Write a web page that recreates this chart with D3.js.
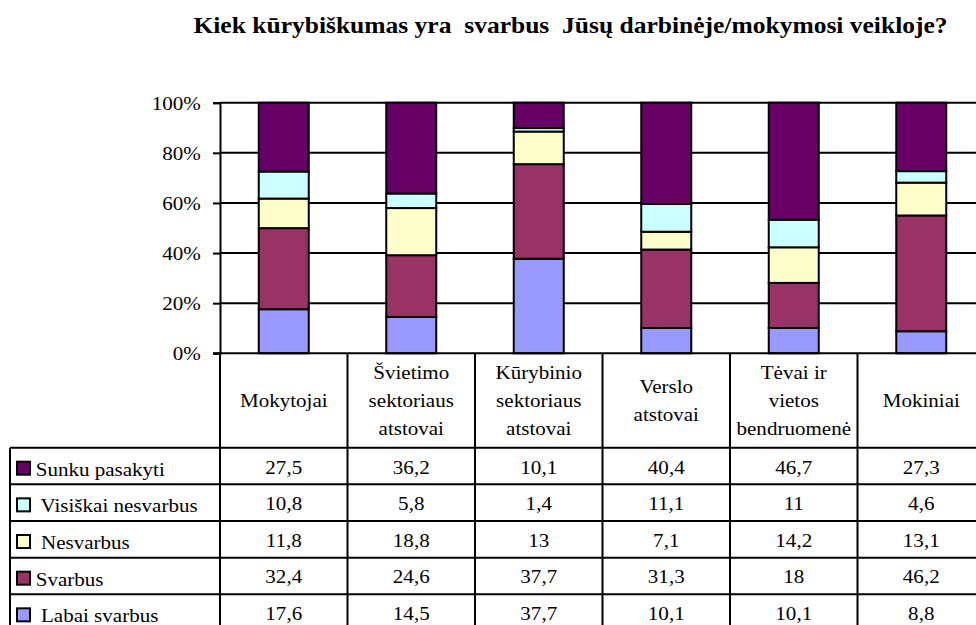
<!DOCTYPE html>
<html>
<head>
<meta charset="utf-8">
<script src="https://cdn.jsdelivr.net/npm/d3@7"></script>
<style>
  html, body { margin: 0; padding: 0; background: #fff; }
  svg { display: block; }
  text { font-family: "Liberation Serif", "Times New Roman", Times, serif; fill: #000; white-space: pre; }
</style>
</head>
<body>
<div id="chart"></div>
<script>
// ---- data ----
const title = "Kiek kūrybiškumas yra  svarbus  Jūsų darbinėje/mokymosi veikloje?";
const categories = ["Mokytojai", "Švietimo sektoriaus atstovai", "Kūrybinio sektoriaus atstovai", "Verslo atstovai", "Tėvai ir vietos bendruomenė", "Mokiniai"];
const categoryLines = [["Mokytojai"], ["Švietimo", "sektoriaus", "atstovai"], ["Kūrybinio", "sektoriaus", "atstovai"], ["Verslo", "atstovai"], ["Tėvai ir", "vietos", "bendruomenė"], ["Mokiniai"]];
// series, bottom of stack first
const seriesNames = ["Labai svarbus", "Svarbus", "Nesvarbus", "Visiškai nesvarbus", "Sunku pasakyti"];
const legendLabels = [" Labai svarbus", "Svarbus", " Nesvarbus", " Visiškai nesvarbus", "Sunku pasakyti"];
const labaiSvarbus = [17.6, 14.5, 37.7, 10.1, 10.1, 8.8];
const svarbus = [32.4, 24.6, 37.7, 31.3, 18, 46.2];
const nesvarbus = [11.8, 18.8, 13, 7.1, 14.2, 13.1];
const visiskaiNesvarbus = [10.8, 5.8, 1.4, 11.1, 11, 4.6];
const sunkuPasakyti = [27.5, 36.2, 10.1, 40.4, 46.7, 27.3];
const seriesValues = [labaiSvarbus, svarbus, nesvarbus, visiskaiNesvarbus, sunkuPasakyti];
const colors = ["#9999FF", "#993366", "#FFFFCC", "#CCFFFF", "#660066"];
const yTicks = [0, 0.2, 0.4, 0.6, 0.8, 1];

// ---- layout ----
const W = 976, H = 625;
const plotLeft = 220, plotRight = 985, plotTop = 102.7, plotBottom = 353.3;
const headerBottom = 447.7, tableBottom = 631, legendLeft = 10;
const SX = 1.12, FS = 18.8;
const FONT = '"Liberation Serif", "Times New Roman", Times, serif';

const svg = d3.select("#chart").append("svg").attr("width", W).attr("height", H);

function stext(g, x, y, txt, anchor, size, weight, sx) {
  return g.append("text")
    .attr("transform", `translate(${x},${y}) scale(${sx},1)`)
    .attr("text-anchor", anchor)
    .attr("font-family", FONT)
    .style("font-family", FONT)
    .style("font-size", size + "px")
    .style("font-weight", weight)
    .text(txt);
}

// title
stext(svg, 570.5, 33, title, "middle", 23, "bold", 1.11);

// scales
const x = d3.scaleBand().domain(categories).range([plotLeft, plotRight]).padding(0);
const y = d3.scaleLinear().domain([0, 1]).range([plotBottom, plotTop]);
const barW = x.bandwidth() * 50 / 127.5;

// gridlines
svg.append("g").selectAll("line").data(yTicks.filter(d => d > 0)).join("line")
  .attr("x1", plotLeft).attr("x2", plotRight)
  .attr("y1", d => y(d)).attr("y2", d => y(d))
  .attr("stroke", "#000").attr("stroke-width", 2);

// stacked data
const rows = categories.map((c, i) => {
  const o = { cat: c };
  seriesNames.forEach((s, k) => o[s] = seriesValues[k][i]);
  return o;
});
const stack = d3.stack().keys(seriesNames).offset(d3.stackOffsetExpand)(rows);

svg.append("g").selectAll("g").data(stack).join("g")
  .attr("fill", (d, i) => colors[i])
  .selectAll("rect").data(d => d).join("rect")
  .attr("x", d => x(d.data.cat) + (x.bandwidth() - barW) / 2)
  .attr("width", barW)
  .attr("y", d => y(d[1]))
  .attr("height", d => y(d[0]) - y(d[1]))
  .attr("stroke", "#000").attr("stroke-width", 2);

// y axis
const axis = svg.append("g").attr("transform", `translate(${plotLeft},0)`)
  .call(d3.axisLeft(y).tickValues(yTicks).tickFormat(d3.format(".0%")).tickSize(7).tickPadding(12));
axis.attr("font-family", FONT);
axis.select(".domain").attr("stroke", "#000").attr("stroke-width", 2);
axis.selectAll(".tick line").attr("stroke", "#000").attr("stroke-width", 2);
axis.selectAll(".tick text")
  .attr("x", null).attr("dy", null)
  .attr("transform", `translate(-19.3,6.5) scale(${SX},1)`)
  .attr("text-anchor", "end")
  .style("font-size", FS + "px")
  .style("font-family", FONT)
  .attr("fill", "#000");

// table
const table = svg.append("g");
const nRows = seriesNames.length;
const rowH = (tableBottom - headerBottom) / nRows;
const colEdges = categories.map(c => x(c)).concat([plotRight]);
// vertical lines
table.selectAll("line.v").data(colEdges).join("line").attr("class", "v")
  .attr("x1", d => d).attr("x2", d => d).attr("y1", plotBottom).attr("y2", tableBottom)
  .attr("stroke", "#000").attr("stroke-width", 2);
table.append("line").attr("x1", legendLeft).attr("x2", legendLeft).attr("y1", headerBottom).attr("y2", tableBottom)
  .attr("stroke", "#000").attr("stroke-width", 2);
// horizontal lines
table.append("line").attr("x1", plotLeft - 7).attr("x2", plotRight).attr("y1", plotBottom).attr("y2", plotBottom)
  .attr("stroke", "#000").attr("stroke-width", 2);
d3.range(nRows + 1).forEach(r => {
  table.append("line").attr("x1", legendLeft).attr("x2", plotRight)
    .attr("y1", headerBottom + r * rowH).attr("y2", headerBottom + r * rowH)
    .attr("stroke", "#000").attr("stroke-width", 2);
});
// header labels
categories.forEach((c, i) => {
  const lines = categoryLines[i];
  const cx = x(c) + x.bandwidth() / 2;
  lines.forEach((l, j) => {
    stext(table, cx, 407.2 + (j - (lines.length - 1) / 2) * 28, l, "middle", FS, "normal", SX);
  });
});
// rows: top row is the top of the stack
const fmt = v => String(v).replace(".", ",");
seriesNames.slice().reverse().forEach((s, r) => {
  const k = seriesNames.indexOf(s);
  const top = headerBottom + r * rowH;
  table.append("rect").attr("x", 17).attr("y", top + 14).attr("width", 13).attr("height", 13)
    .attr("fill", colors[k]).attr("stroke", "#000").attr("stroke-width", 2);
  stext(table, 35.7, top + 28, legendLabels[k], "start", FS, "normal", SX);
  categories.forEach((c, i) => {
    stext(table, x(c) + x.bandwidth() / 2, top + 25.8, fmt(seriesValues[k][i]), "middle", FS, "normal", SX);
  });
});
</script>
</body>
</html>
